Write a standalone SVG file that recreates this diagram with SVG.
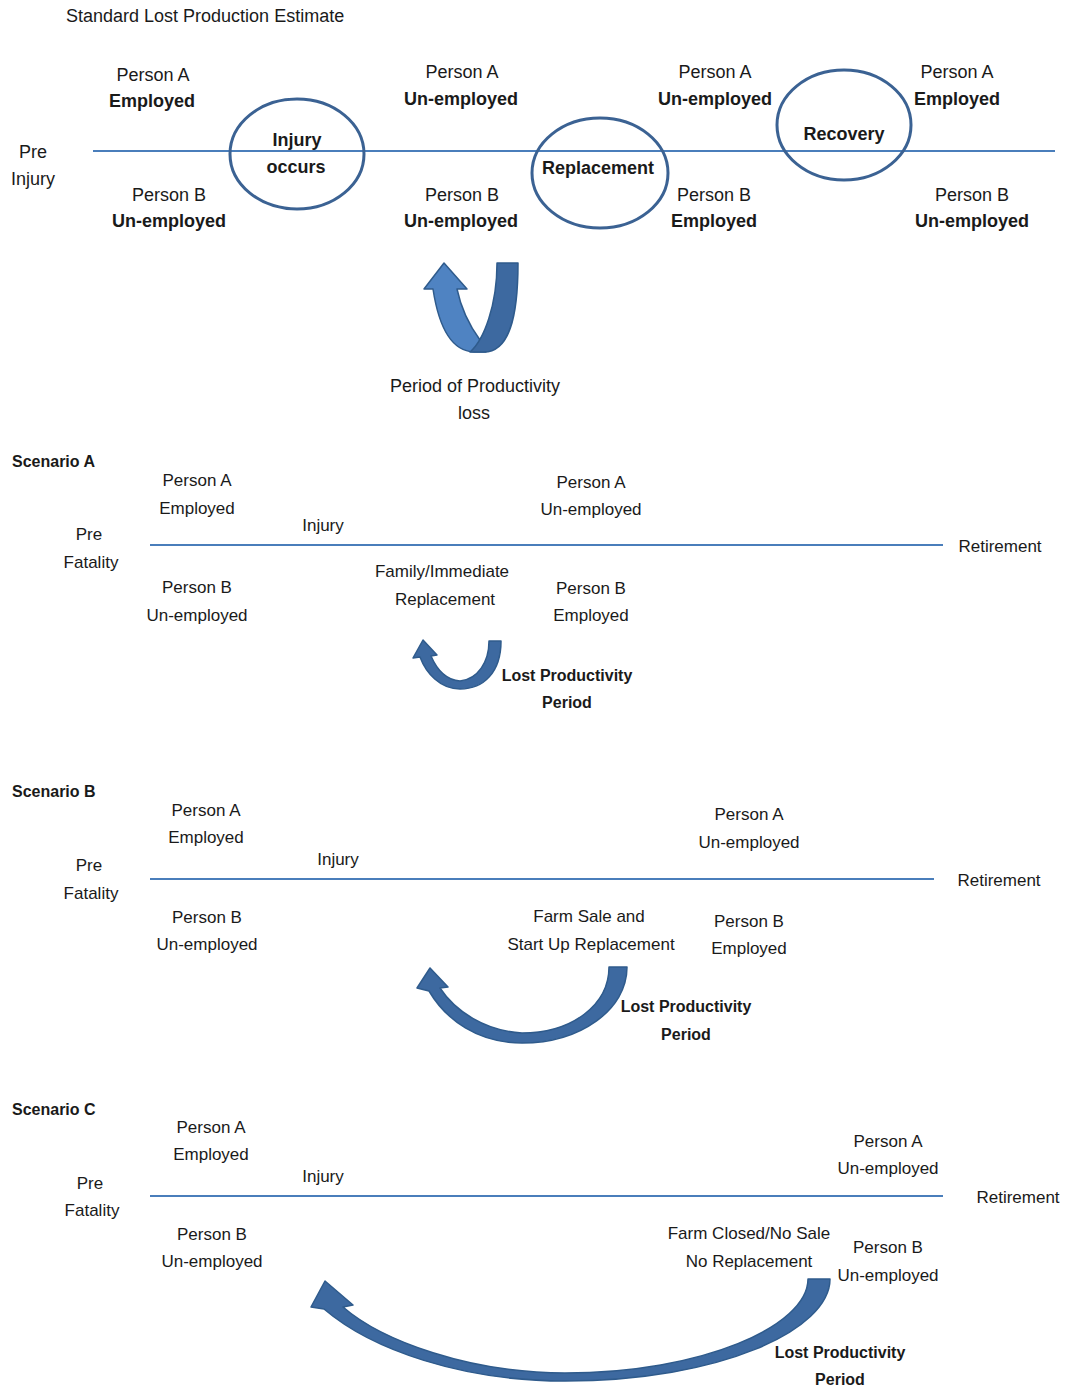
<svg xmlns="http://www.w3.org/2000/svg" width="1068" height="1391" viewBox="0 0 1068 1391">
<style>
text{font-family:"Liberation Sans",Arial,sans-serif;fill:#1a1a1a;text-anchor:middle}
.t18{font-size:18px}
.b18{font-size:18px;font-weight:bold}
.t17{font-size:17px}
.b16{font-size:16px;font-weight:bold}
.left{text-anchor:start}
.tl{stroke:#4a7ebb;stroke-width:2;fill:none}
.ell{fill:none;stroke:#3b6293;stroke-width:3}
.arL{fill:#4f83c2;stroke:#2f5b8c;stroke-width:1.5;stroke-linejoin:round}
.arD{fill:#3d69a0;stroke:#2f5b8c;stroke-width:1.5;stroke-linejoin:round}
</style>
<rect width="1068" height="1391" fill="#ffffff"/>

<text id="title" class="t18 left" x="66" y="22">Standard Lost Production Estimate</text>

<g id="timelines">
<line class="tl" x1="93" y1="151" x2="1055" y2="151"/>
<line class="tl" x1="150" y1="545" x2="943" y2="545"/>
<line class="tl" x1="150" y1="879" x2="934" y2="879"/>
<line class="tl" x1="150" y1="1196" x2="943" y2="1196"/>
</g>

<g id="connectors">
<g id="arrow-top">
<path class="arL" d="M433,289 C438,322 449,351 474,352 L486,352 L480,340 C469,325 461,308 457,289 L467,289 L444,263 L424,289 Z"/>
<path class="arD" d="M497,263 L518,263 C518,318 509,352 484,352 L470,352 C484,340 497,305 497,263 Z"/>
</g>
<path id="arrow-a" class="arD" d="M489,641 L501,641 C501,672 484,689 460,689 C440,689 426,673 420,657 L413,658 L423,640 L437,655 L431,656 C437,670 447,680 460,681 C478,679 489,662 489,641 Z"/>
<path id="arrow-b" class="arD" d="M609,967 L627,967 C627,1010 580,1043 522,1043 C478,1043 446,1020 429,991 L417,988 L430,968 L448,987 L440,988 C455,1011 485,1031 522,1033 C572,1033 609,1005 609,967 Z"/>
<path id="arrow-c" class="arD" d="M808,1279 L830,1279 C830,1330 720,1381 565,1381 C462,1381 372,1350 324,1309 L311,1307 L325,1281 L353,1305 L343,1307 C382,1341 470,1373 565,1373 C702,1373 808,1326 808,1279 Z"/>
</g>

<g id="std-prestate">
<text class="t18" x="33" y="158">Pre</text>
<text class="t18" x="33" y="185">Injury</text>
</g>
<g id="std-a1"><text class="t18" x="153" y="81">Person A</text><text class="b18" x="152" y="107">Employed</text></g>
<g id="std-b1"><text class="t18" x="169" y="201">Person B</text><text class="b18" x="169" y="227">Un-employed</text></g>
<g id="node-injury"><ellipse class="ell" cx="297" cy="154" rx="67" ry="55"/><text class="b18" x="297" y="146">Injury</text><text class="b18" x="296" y="173">occurs</text></g>
<g id="std-a2"><text class="t18" x="462" y="78">Person A</text><text class="b18" x="461" y="105">Un-employed</text></g>
<g id="std-b2"><text class="t18" x="462" y="201">Person B</text><text class="b18" x="461" y="227">Un-employed</text></g>
<g id="node-replacement"><ellipse class="ell" cx="600" cy="173" rx="68" ry="55"/><text class="b18" x="598" y="174">Replacement</text></g>
<g id="std-a3"><text class="t18" x="715" y="78">Person A</text><text class="b18" x="715" y="105">Un-employed</text></g>
<g id="std-b3"><text class="t18" x="714" y="201">Person B</text><text class="b18" x="714" y="227">Employed</text></g>
<g id="node-recovery"><ellipse class="ell" cx="844" cy="125" rx="67" ry="55"/><text class="b18" x="844" y="140">Recovery</text></g>
<g id="std-a4"><text class="t18" x="957" y="78">Person A</text><text class="b18" x="957" y="105">Employed</text></g>
<g id="std-b4"><text class="t18" x="972" y="201">Person B</text><text class="b18" x="972" y="227">Un-employed</text></g>
<g id="std-period"><text class="t18" x="475" y="392">Period of Productivity</text><text class="t18" x="474" y="419">loss</text></g>

<g id="scenario-a">
<text class="b16 left" x="12" y="467">Scenario A</text>
<text class="t17" x="197" y="486">Person A</text><text class="t17" x="197" y="514">Employed</text>
<text class="t17" x="89" y="540">Pre</text><text class="t17" x="91" y="568">Fatality</text>
<text class="t17" x="323" y="531">Injury</text>
<text class="t17" x="591" y="488">Person A</text><text class="t17" x="591" y="515">Un-employed</text>
<text class="t17" x="1000" y="552">Retirement</text>
<text class="t17" x="197" y="593">Person B</text><text class="t17" x="197" y="621">Un-employed</text>
<text class="t17" x="442" y="577">Family/Immediate</text><text class="t17" x="445" y="605">Replacement</text>
<text class="t17" x="591" y="594">Person B</text><text class="t17" x="591" y="621">Employed</text>
<text class="b16" x="567" y="681">Lost Productivity</text><text class="b16" x="567" y="708">Period</text>
</g>

<g id="scenario-b">
<text class="b16 left" x="12" y="797">Scenario B</text>
<text class="t17" x="206" y="816">Person A</text><text class="t17" x="206" y="843">Employed</text>
<text class="t17" x="89" y="871">Pre</text><text class="t17" x="91" y="899">Fatality</text>
<text class="t17" x="338" y="865">Injury</text>
<text class="t17" x="749" y="820">Person A</text><text class="t17" x="749" y="848">Un-employed</text>
<text class="t17" x="999" y="886">Retirement</text>
<text class="t17" x="207" y="923">Person B</text><text class="t17" x="207" y="950">Un-employed</text>
<text class="t17" x="589" y="922">Farm Sale and</text><text class="t17" x="591" y="950">Start Up Replacement</text>
<text class="t17" x="749" y="927">Person B</text><text class="t17" x="749" y="954">Employed</text>
<text class="b16" x="686" y="1012">Lost Productivity</text><text class="b16" x="686" y="1040">Period</text>
</g>

<g id="scenario-c">
<text class="b16 left" x="12" y="1115">Scenario C</text>
<text class="t17" x="211" y="1133">Person A</text><text class="t17" x="211" y="1160">Employed</text>
<text class="t17" x="90" y="1189">Pre</text><text class="t17" x="92" y="1216">Fatality</text>
<text class="t17" x="323" y="1182">Injury</text>
<text class="t17" x="888" y="1147">Person A</text><text class="t17" x="888" y="1174">Un-employed</text>
<text class="t17" x="1018" y="1203">Retirement</text>
<text class="t17" x="212" y="1240">Person B</text><text class="t17" x="212" y="1267">Un-employed</text>
<text class="t17" x="749" y="1239">Farm Closed/No Sale</text><text class="t17" x="749" y="1267">No Replacement</text>
<text class="t17" x="888" y="1253">Person B</text><text class="t17" x="888" y="1281">Un-employed</text>
<text class="b16" x="840" y="1358">Lost Productivity</text><text class="b16" x="840" y="1385">Period</text>
</g>
</svg>
